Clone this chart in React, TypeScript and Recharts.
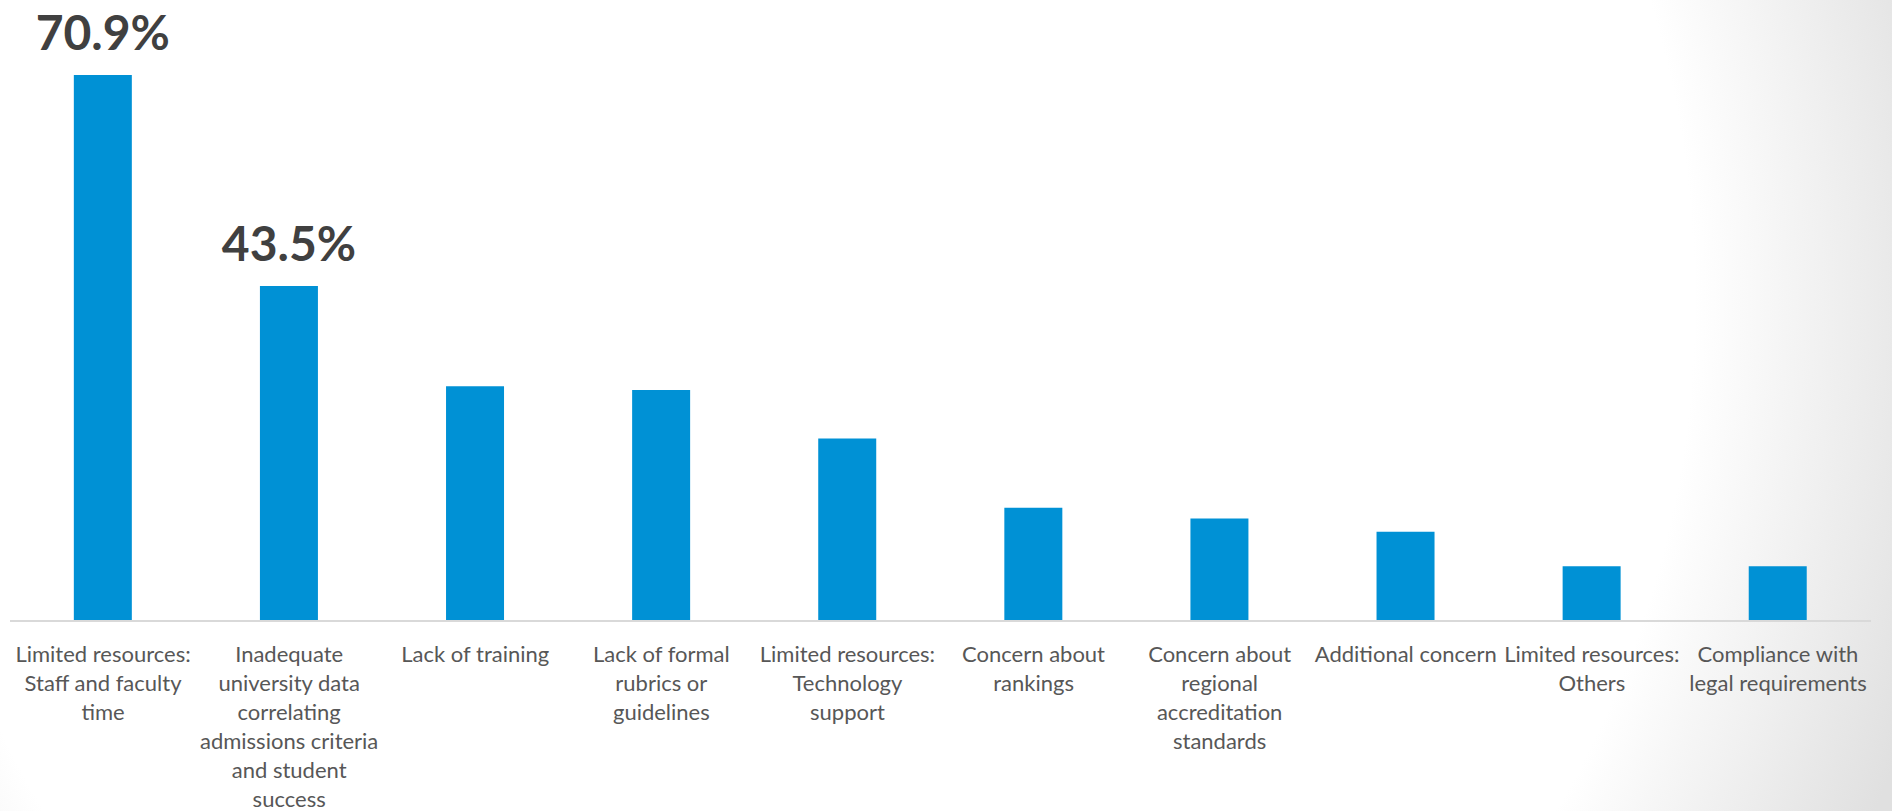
import React from 'react';
import { BarChart, Bar, XAxis, YAxis, LabelList } from 'recharts';

// category labels, already broken into the lines used on the slide
const categoryLines: string[][] = [
  ['Limited resources:', 'Staff and faculty', 'time'],
  ['Inadequate', 'university data', 'correlating', 'admissions criteria', 'and student', 'success'],
  ['Lack of training'],
  ['Lack of formal', 'rubrics or', 'guidelines'],
  ['Limited resources:', 'Technology', 'support'],
  ['Concern about', 'rankings'],
  ['Concern about', 'regional', 'accreditation', 'standards'],
  ['Additional concern'],
  ['Limited resources:', 'Others'],
  ['Compliance with', 'legal requirements'],
];

// share of respondents (%)
const shares = [70.9, 43.5, 30.5, 30.0, 23.7, 14.7, 13.3, 11.6, 7.1, 7.1];

// only the first bars carry a value label
const labelledBars = 2;

const data = categoryLines.map((lines, i) => ({
  name: lines.join('\n'),
  share: shares[i],
}));

const FONT = 'Lato, "Open Sans", sans-serif';

const CategoryTick = ({ x, y, payload }: any) => {
  const lines = String(payload.value).split('\n');
  return (
    <text x={x} y={y} textAnchor="middle" fill="#575757" fontSize={22} fontFamily={FONT}>
      {lines.map((line, i) => (
        <tspan key={i} x={x} dy={i === 0 ? 41 : 29}>
          {line}
        </tspan>
      ))}
    </text>
  );
};

const ValueLabel = (props: any) => {
  const { x, y, width, value, index } = props;
  if (index >= labelledBars) return null;
  return (
    <text
      x={x + width / 2}
      y={y - 25}
      textAnchor="middle"
      fill="#404040"
      fontSize={48}
      fontWeight={700}
      fontFamily={FONT}
    >
      {`${Number(value).toFixed(1)}%`}
    </text>
  );
};

export default function App() {
  return (
    <div
      style={{
        position: 'absolute',
        left: 0,
        top: 0,
        width: 1892,
        height: 811,
        background:
          'radial-gradient(ellipse 1177px 1257px at 800px 300px, #ffffff 76%, #e0e0e0 100%)',
      }}
    >
      <BarChart
        width={1892}
        height={811}
        data={data}
        margin={{ top: 5, right: 21, left: 10, bottom: 0 }}
        barCategoryGap="34.3%"
      >
        <XAxis
          dataKey="name"
          interval={0}
          height={190}
          tickLine={false}
          tickSize={0}
          tickMargin={0}
          axisLine={{ stroke: '#d9d9d9', strokeWidth: 2 }}
          tick={<CategoryTick />}
        />
        <YAxis hide domain={[0, 80]} />
        <Bar dataKey="share" fill="#0091d5" isAnimationActive={false}>
          <LabelList dataKey="share" content={<ValueLabel />} />
        </Bar>
      </BarChart>
    </div>
  );
}
